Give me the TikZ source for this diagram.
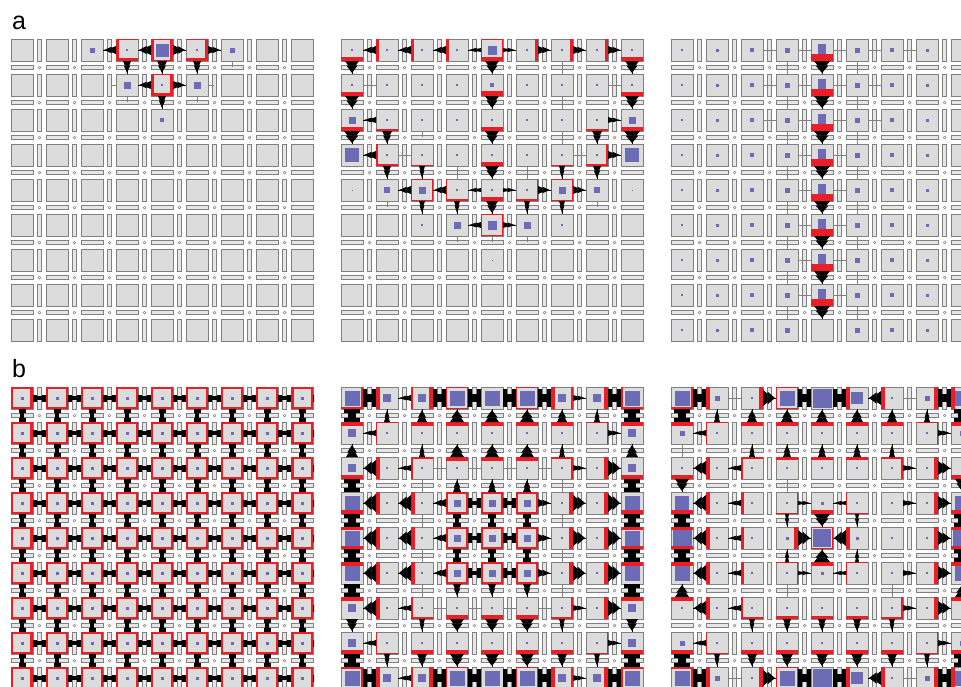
\documentclass[tikz,border=0pt]{standalone}
\usepackage{fontspec}
\setsansfont{Liberation Sans}
\usepackage{tikz}
\usetikzlibrary{arrows}

\definecolor{zellgrau}{RGB}{220,220,220}
\definecolor{randgrau}{RGB}{128,128,128}
\definecolor{steggrau}{RGB}{230,230,230}
\definecolor{blauv}{RGB}{108,108,182}
\definecolor{rotv}{RGB}{234,30,36}

% Richtungen: l = links, r = rechts, o = oben, u = unten
\def\dirl{180}\def\dirr{0}\def\diro{90}\def\diru{-90}

% Raster aus 9x9 Zellen mit Stegen und Knoten
\newcommand{\raster}{%
	\foreach \i in {0,...,8}
		\foreach \j in {0,...,8} {
			\filldraw[steg] ({35*\i+26.7},{35*\j}) rectangle +(3.6,22);
			\filldraw[steg] ({35*\i},{35*\j+26.7}) rectangle +(22,3.6);
			\filldraw[knoten] ({35*\i+28.5},{35*\j+28.5}) circle (1.4);
			\filldraw[zelle] ({35*\i},{35*\j}) rectangle +(22,22);
		}}
% blaues Quadrat in Zelle (i,j), Kantenlaenge s
\newcommand{\quadrat}[3]{\fill[blau] ({35*#1+11-#3/2},{35*#2+11-#3/2}) rectangle +(#3,#3);}
% rote Raender
\newcommand{\rotL}[3]{\fill[rot] ({35*#1},{35*#2}) rectangle +(#3,22);}
\newcommand{\rotR}[3]{\fill[rot] ({35*#1+22-#3},{35*#2}) rectangle +(#3,22);}
\newcommand{\rotT}[3]{\fill[rot] ({35*#1},{35*#2}) rectangle +(22,#3);}
\newcommand{\rotB}[3]{\fill[rot] ({35*#1},{35*#2+22-#3}) rectangle +(22,#3);}
\newcommand{\rotF}[3]{\draw[rot, line width=#3] ({35*#1+#3/2},{35*#2+#3/2}) rectangle ({35*#1+22-#3/2},{35*#2+22-#3/2});}
% Flusspfeil aus Zelle (i,j) in Richtung d, Groesse s
\newcommand{\pfeil}[4]{%
	\edef\winkel{\csname dir#3\endcsname}%
	\begin{scope}[shift={({35*#1+11},{35*#2+11})}, rotate=\winkel]
		\fill[fluss] (11,-#4) -- (15.5,{-0.55*#4}) -- (15.5,{0.55*#4}) -- (11,#4) -- cycle;
		\fill[fluss] (15.5,{-max(0.8*#4,2.2)}) -- (23,0) -- (15.5,{max(0.8*#4,2.2)}) -- cycle;
		\draw[fluss, line width=.6] (11,0) -- (24,0);
	\end{scope}}
% Fluss in beide Richtungen
\newcommand{\doppel}[4]{%
	\edef\winkel{\csname dir#3\endcsname}%
	\begin{scope}[shift={({35*#1+11},{35*#2+11})}, rotate=\winkel]
		\fill[fluss] (11,-#4) rectangle (15,#4);
		\fill[fluss] (20,-#4) rectangle (24,#4);
		\fill[fluss] (14,{-0.45*#4}) rectangle (21,{0.45*#4});
	\end{scope}}
% duenne Verbindungen
\newcommand{\feder}[3]{%
	\edef\winkel{\csname dir#3\endcsname}%
	\draw[verbindung, shift={({35*#1+11},{35*#2+11})}, rotate=\winkel] (11,0) -- (24,0);}
\newcommand{\halbfeder}[3]{%
	\edef\winkel{\csname dir#3\endcsname}%
	\draw[verbindung, shift={({35*#1+11},{35*#2+11})}, rotate=\winkel] (11,0) -- (16.5,0);}

\begin{document}
\begin{tikzpicture}[x=1pt, y=-1pt,
		zelle/.style={fill=zellgrau, draw=randgrau, line width=.9},
		steg/.style={fill=steggrau, draw=randgrau, line width=.7},
		knoten/.style={fill=white, draw=randgrau, line width=.5},
		blau/.style={color=blauv},
		rot/.style={color=rotv},
		fluss/.style={color=black},
		verbindung/.style={color=gray, line width=.6},
		marke/.style={anchor=base west, inner sep=0pt, font=\sffamily\fontsize{25}{25}\selectfont}]
	\useasboundingbox (0,0) rectangle (961,686);
	\fill[white] (0,0) rectangle (961,686);
	% Beschriftung
	\node[marke] (labela) at (12,29) {a};
	\node[marke] (labelb) at (12,377) {b};

	%%% Reihe a, links
	\begin{scope}[shift={(11,39)}]
		\clip (0,0) rectangle (303,303);
		\raster
		\foreach \i/\j/\ri in {6/0/u, 3/1/l, 3/1/u, 5/1/r, 5/1/u} {\halbfeder{\i}{\j}{\ri}}
		\foreach \i/\j/\s in {2/0/5, 3/0/2, 4/0/13, 5/0/2, 6/0/5, 3/1/7, 4/1/2, 5/1/7, 4/2/4} {\quadrat{\i}{\j}{\s}}
		\foreach \i/\j/\ri/\s in {3/0/L/3, 3/0/B/3, 3/0/T/1, 4/0/L/3, 4/0/R/3, 4/0/T/1, 4/0/B/1,
				5/0/R/3, 5/0/B/3, 5/0/T/1, 4/1/L/3, 4/1/R/3, 4/1/B/3, 4/1/T/1}
			{\csname rot\ri\endcsname{\i}{\j}{\s}}
		\foreach \i/\j/\ri/\s in {3/0/l/4, 4/0/l/5, 4/0/r/5, 5/0/r/4, 3/0/u/4, 4/0/u/5, 5/0/u/4,
				4/1/l/4, 4/1/r/4, 4/1/u/4}
			{\pfeil{\i}{\j}{\ri}{\s}}
	\end{scope}

	%%% Reihe a, Mitte
	\begin{scope}[shift={(341,39)}]
		\clip (0,0) rectangle (303,303);
		\raster
		\foreach \i/\j/\ri in {0/1/r, 7/1/r, 1/3/r, 6/3/r, 6/0/u, 6/1/u, 6/2/u, 3/3/u, 5/3/u} {\feder{\i}{\j}{\ri}}
		\foreach \i/\j/\ri in {2/2/u, 1/4/u, 7/4/u, 3/5/u, 5/5/u, 4/5/u, 5/4/u} {\halbfeder{\i}{\j}{\ri}}
		\foreach \i/\j/\s in {0/0/2, 1/0/1.5, 2/0/1.5, 3/0/1.5, 4/0/9, 5/0/1.5, 6/0/1.5, 7/0/1.5, 8/0/2,
				0/1/2, 1/1/1.5, 2/1/2, 3/1/2, 4/1/4, 5/1/2, 6/1/2, 7/1/1.5, 8/1/2,
				0/2/7, 1/2/2, 2/2/2, 3/2/2, 4/2/2, 5/2/2, 6/2/2, 7/2/2, 8/2/7,
				0/3/14, 1/3/2, 2/3/2.5, 3/3/2.5, 4/3/2, 5/3/2.5, 6/3/2.5, 7/3/2, 8/3/14,
				0/4/1, 1/4/6, 2/4/7, 3/4/1.5, 4/4/2, 5/4/1.5, 6/4/7, 7/4/6, 8/4/1,
				2/5/1.5, 3/5/7, 4/5/9, 5/5/7, 6/5/1.5, 4/6/1}
			{\quadrat{\i}{\j}{\s}}
		\foreach \i/\j/\ri/\s in {0/0/B/4, 1/0/L/3, 2/0/L/3, 3/0/L/3, 4/0/B/4, 4/0/F/1, 5/0/R/3, 6/0/R/3, 7/0/R/3, 8/0/B/4,
				0/1/B/4, 4/1/B/5, 8/1/B/4,
				0/2/B/4, 1/2/B/2, 4/2/B/4, 7/2/B/2, 8/2/B/4,
				1/3/L/2, 1/3/B/2, 2/3/B/1, 4/3/B/4, 6/3/B/1, 7/3/R/2, 7/3/B/2,
				2/4/F/1, 3/4/B/2, 3/4/L/1, 4/4/B/4, 5/4/B/2, 5/4/R/1, 6/4/F/1,
				4/5/F/1}
			{\csname rot\ri\endcsname{\i}{\j}{\s}}
		\foreach \i/\j/\ri/\s in {0/0/u/7, 1/0/l/4, 2/0/l/4, 3/0/l/4, 4/0/l/2, 4/0/r/2, 4/0/u/7, 5/0/r/4, 6/0/r/4, 7/0/r/4, 8/0/u/7,
				0/1/u/7, 4/1/u/7, 8/1/u/7,
				0/2/u/8, 1/2/l/3, 1/2/u/5, 4/2/u/7, 7/2/r/3, 7/2/u/5, 8/2/u/8,
				1/3/l/4, 1/3/u/4, 2/3/u/3, 4/3/u/7, 6/3/u/3, 7/3/r/4, 7/3/u/4,
				2/4/l/4, 3/4/l/4, 4/4/l/2, 4/4/r/2, 5/4/r/4, 6/4/r/4, 2/4/u/3, 3/4/u/3, 4/4/u/6, 5/4/u/3, 6/4/u/3,
				4/5/l/3, 4/5/r/3}
			{\pfeil{\i}{\j}{\ri}{\s}}
	\end{scope}

	%%% Reihe a, rechts
	\begin{scope}[shift={(671,39)}]
		\clip (0,0) rectangle (303,303);
		\raster
		\foreach \i in {2,...,6} {\feder{\i}{0}{r}}
		\foreach \j in {1,2} {\foreach \i in {2,...,5} {\feder{\i}{\j}{r}}}
		\foreach \j in {3,...,7} {\feder{3}{\j}{r} \feder{4}{\j}{r}}
		\foreach \j in {0,...,7} {\feder{3}{\j}{u} \feder{5}{\j}{u}}
		\foreach \i/\s in {0/2, 1/3, 2/4, 3/5, 5/5, 6/4, 7/3, 8/2} {\foreach \j in {0,...,8} {\quadrat{\i}{\j}{\s}}}
		\foreach \j in {0,...,7} {
			\fill[blau] ({35*4+7},{35*\j+5}) rectangle +(8,9.5);
			\rotB{4}{\j}{7.5}
			\pfeil{4}{\j}{u}{8}
		}
	\end{scope}

	%%% Reihe b, links
	\begin{scope}[shift={(11,387)}]
		\clip (0,0) rectangle (303,303);
		\raster
		\foreach \i in {0,...,8} {\foreach \j in {0,...,8} {\quadrat{\i}{\j}{3} \rotF{\i}{\j}{2.2}}}
		\foreach \j in {0,...,8} {\rotR{0}{\j}{3} \rotL{8}{\j}{3}}
		\foreach \i in {0,...,8} {\foreach \j in {0,...,8} {\doppel{\i}{\j}{r}{3.5} \doppel{\i}{\j}{u}{3.5}}}
	\end{scope}

	%%% Reihe b, Mitte
	\begin{scope}[shift={(341,387)}]
		\clip (0,0) rectangle (303,303);
		\raster
		\foreach \j in {2,6} {\foreach \i in {2,...,5} {\feder{\i}{\j}{r}}}
		\foreach \j in {2,...,5} {\feder{2}{\j}{u} \feder{6}{\j}{u}}
		% blaue Quadrate
		\foreach \j in {0,8} {\foreach \i/\s in {0/15, 1/8, 2/8, 3/15, 4/15, 5/15, 6/8, 7/8, 8/15} {\quadrat{\i}{\j}{\s}}}
		\foreach \j in {1,2,6,7} {\foreach \i/\s in {0/8, 1/2, 2/2, 3/2, 4/2, 5/2, 6/2, 7/2, 8/8} {\quadrat{\i}{\j}{\s}}}
		\foreach \j in {3,4,5} {\foreach \i/\s in {0/15, 1/2, 2/2, 3/7, 4/7, 5/7, 6/2, 7/2, 8/15} {\quadrat{\i}{\j}{\s}}}
		% rote Raender
		\foreach \j/\rb in {0/B, 8/T} {\foreach \i/\ri/\s in {0/R/2, 0/\rb/2, 1/L/4, 2/L/2, 2/R/4, 3/F/1, 5/F/1,
				6/L/4, 6/R/2, 7/R/4, 8/L/2, 8/\rb/2} {\csname rot\ri\endcsname{\i}{\j}{\s}}}
		\foreach \j/\ra in {1/T, 7/B} {\foreach \i/\ri/\s in {0/\ra/4, 1/L/1, 1/\ra/1, 2/\ra/4, 3/\ra/4, 4/\ra/4, 5/\ra/4,
				6/\ra/4, 7/R/1, 7/\ra/1, 8/\ra/4} {\csname rot\ri\endcsname{\i}{\j}{\s}}}
		\foreach \j/\ra/\rb in {2/T/B, 6/B/T} {\foreach \i/\ri/\s in {0/\rb/4, 1/L/4, 2/L/2, 2/\ra/2, 3/\ra/4, 4/\ra/4,
				5/\ra/4, 6/R/2, 6/\ra/2, 7/R/4, 8/\rb/4} {\csname rot\ri\endcsname{\i}{\j}{\s}}}
		\foreach \j in {3,4,5} {\foreach \i/\ri/\s in {1/L/4, 2/L/4, 3/F/2, 4/F/2, 5/F/2, 6/R/4, 7/R/4} {\csname rot\ri\endcsname{\i}{\j}{\s}}}
		\foreach \i/\j/\ri/\s in {0/3/B/4, 8/3/B/4, 0/4/T/3, 0/4/B/3, 8/4/T/3, 8/4/B/3, 0/5/T/4, 8/5/T/4}
			{\csname rot\ri\endcsname{\i}{\j}{\s}}
		% Fluss waagrecht
		\foreach \j in {0,8} {
			\foreach \i in {0,2,3,4,5,7} {\doppel{\i}{\j}{r}{9}}
			\pfeil{2}{\j}{l}{3} \pfeil{6}{\j}{r}{3}
		}
		\foreach \j in {1,7} {\pfeil{1}{\j}{l}{3} \pfeil{7}{\j}{r}{3}}
		\foreach \j in {2,6} {\pfeil{1}{\j}{l}{8} \pfeil{2}{\j}{l}{3} \pfeil{6}{\j}{r}{3} \pfeil{7}{\j}{r}{8}}
		\foreach \j in {3,4,5} {
			\foreach \i/\ri/\s in {1/l/9, 2/l/8, 3/l/4, 5/r/4, 6/r/8, 7/r/9} {\pfeil{\i}{\j}{\ri}{\s}}
			\doppel{3}{\j}{r}{5} \doppel{4}{\j}{r}{5}
		}
		% Fluss senkrecht
		\foreach \j in {0,2,3,4,5,7} {\doppel{0}{\j}{u}{8} \doppel{8}{\j}{u}{8}}
		\foreach \j in {3,4} {\foreach \i in {3,4,5} {\doppel{\i}{\j}{u}{4}}}
		\foreach \j/\ri in {1/o, 7/u} {\foreach \i/\s in {1/3, 2/5, 3/7, 4/7, 5/7, 6/5, 7/3} {\pfeil{\i}{\j}{\ri}{\s}}}
		\foreach \j/\ri in {2/o, 6/u} {\foreach \i/\s in {0/6, 2/3, 3/7, 4/7, 5/7, 6/3, 8/6} {\pfeil{\i}{\j}{\ri}{\s}}}
		\foreach \j/\ri in {3/o, 5/u} {\foreach \i in {3,4,5} {\pfeil{\i}{\j}{\ri}{4}}}
	\end{scope}

	%%% Reihe b, rechts
	\begin{scope}[shift={(671,387)}]
		\clip (0,0) rectangle (303,303);
		\raster
		\foreach \i/\j/\ri in {1/0/r, 6/0/r, 1/8/r, 6/8/r, 0/1/u, 3/2/u, 3/5/u, 6/5/u} {\feder{\i}{\j}{\ri}}
		% blaue Quadrate
		\foreach \j in {0,8} {\foreach \i/\s in {0/15, 1/5, 2/2, 3/15, 4/19, 5/12, 6/2, 7/5, 8/15} {\quadrat{\i}{\j}{\s}}}
		\foreach \j in {1,7} {\foreach \i/\s in {0/5, 1/2, 2/2, 3/2, 4/2, 5/2, 6/2, 7/2, 8/5} {\quadrat{\i}{\j}{\s}}}
		\foreach \j in {2,6} {\foreach \i/\s in {0/2, 1/1.5, 2/1.5, 3/1.5, 4/1.5, 5/1.5, 6/1.5, 7/1.5, 8/2} {\quadrat{\i}{\j}{\s}}}
		\foreach \i/\s in {0/14, 1/2, 2/1.5, 3/2, 4/3, 5/2, 6/2, 7/2, 8/14} {\quadrat{\i}{3}{\s}}
		\foreach \i/\s in {0/19, 1/2, 2/1.5, 3/3, 4/18, 5/3, 6/2, 7/2, 8/19} {\quadrat{\i}{4}{\s}}
		\foreach \i/\s in {0/15, 1/2, 2/1.5, 3/2, 4/3, 5/2, 6/2, 7/2, 8/15} {\quadrat{\i}{5}{\s}}
		% rote Raender
		\foreach \j/\rb in {0/B, 8/T} {\foreach \i/\ri/\s in {0/R/2, 0/\rb/2, 1/L/4, 2/R/4, 3/F/1, 5/L/4, 6/L/4,
				7/R/4, 8/L/4} {\csname rot\ri\endcsname{\i}{\j}{\s}}}
		\foreach \j/\ra in {1/T, 7/B} {\foreach \i/\ri/\s in {0/\ra/4, 1/L/1, 1/\ra/1, 2/\ra/4, 3/\ra/4, 4/\ra/4, 5/\ra/4,
				6/\ra/4, 7/R/1, 7/\ra/1, 8/\ra/4} {\csname rot\ri\endcsname{\i}{\j}{\s}}}
		\foreach \j/\ra/\rb in {2/T/B, 6/B/T} {\foreach \i/\ri/\s in {0/\rb/4, 1/L/4, 2/L/2, 2/\ra/2, 3/\ra/3, 4/\ra/3,
				5/\ra/3, 6/R/2, 6/\ra/2, 7/R/4, 8/\rb/4} {\csname rot\ri\endcsname{\i}{\j}{\s}}}
		\foreach \j/\ra in {3/B, 5/T} {\foreach \i/\ri/\s in {0/\ra/4, 1/L/4, 2/L/3, 3/R/1, 3/\ra/1, 4/\ra/4,
				5/L/1, 5/\ra/1, 7/R/4, 8/\ra/4} {\csname rot\ri\endcsname{\i}{\j}{\s}}}
		\foreach \i/\ri/\s in {0/T/3, 0/B/3, 1/L/4, 2/L/3, 3/R/4, 4/F/1, 5/L/4, 7/R/4, 8/T/3, 8/B/3}
			{\csname rot\ri\endcsname{\i}{4}{\s}}
		% Fluss waagrecht
		\foreach \j in {0,8} {
			\foreach \i in {0,3,4,7} {\doppel{\i}{\j}{r}{9}}
			\pfeil{2}{\j}{r}{8} \pfeil{6}{\j}{l}{7}
		}
		\foreach \j in {1,7} {\pfeil{1}{\j}{l}{3} \pfeil{7}{\j}{r}{3}}
		\foreach \j in {2,6} {\pfeil{1}{\j}{l}{7} \pfeil{2}{\j}{l}{3} \pfeil{6}{\j}{r}{3} \pfeil{7}{\j}{r}{7}}
		\foreach \j in {3,5} {
			\foreach \i/\ri/\s in {1/l/8, 2/l/3, 3/r/2, 5/l/2, 6/r/3, 7/r/7} {\pfeil{\i}{\j}{\ri}{\s}}
		}
		\foreach \i/\ri/\s in {1/l/8, 2/l/3, 3/r/8, 5/l/8, 7/r/7} {\pfeil{\i}{4}{\ri}{\s}}
		% Fluss senkrecht
		\foreach \j in {0,3,4,7} {\doppel{0}{\j}{u}{8} \doppel{8}{\j}{u}{8}}
		\foreach \j/\ri in {1/o, 7/u} {\foreach \i/\s in {1/3, 2/5, 3/6, 4/6, 5/6, 6/5, 7/3} {\pfeil{\i}{\j}{\ri}{\s}}}
		\foreach \j/\ri in {2/o, 6/u} {\foreach \i/\s in {2/3, 3/4, 4/4, 5/4, 6/3} {\pfeil{\i}{\j}{\ri}{\s}}}
		\foreach \i/\j/\ri/\s in {0/2/u/7, 8/2/u/7, 0/6/o/7, 8/6/o/7, 4/3/u/8, 4/5/o/8,
				3/3/u/2, 5/3/u/2, 3/5/o/2, 5/5/o/2}
			{\pfeil{\i}{\j}{\ri}{\s}}
	\end{scope}
\end{tikzpicture}
\end{document}
